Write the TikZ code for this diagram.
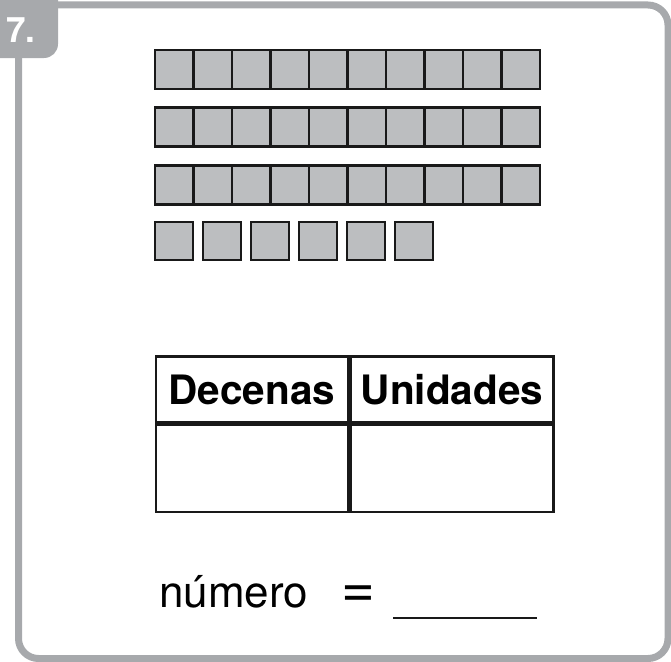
\documentclass[tikz,border=0pt]{standalone}
\usepackage{fontspec}
\setmainfont{TeX Gyre Heros}
\usepackage{xcolor}
\usepackage{tikz}
\usetikzlibrary{positioning}

\definecolor{framegray}{HTML}{A7A9AC}
\definecolor{blockgray}{HTML}{BCBEC0}

\begin{document}
\begin{tikzpicture}[
    x=1pt, y=-1pt,
    unitbox/.style={rectangle, draw=black!90, line width=2.6pt, fill=blockgray, minimum width=38.5pt, minimum height=39pt, inner sep=0pt},
    cell/.style={rectangle, draw=black!90, line width=2.4pt, minimum width=192pt, inner sep=0pt, font=\fontsize{40.5}{44}\selectfont\bfseries},
    tab/.style={fill=framegray, rounded corners=14pt}
]
    \useasboundingbox (0,0) rectangle (671,661);

    % Frame and tab
    \draw[framegray, line width=7pt, rounded corners=20pt] (18.5,5) rectangle (668,658.5);
    \fill[tab] (-20,-20) rectangle (58,58);
    \node[anchor=base west, text=white, font=\fontsize{35}{38}\selectfont\bfseries, inner sep=0pt] (num) at (6,43) {7.};

    % Rows of ten
    \foreach \r/\yy in {1/69.5, 2/127, 3/185} {
        \foreach \c in {1,...,10} {
            \node[unitbox] (r\r c\c) at ({155+38.5*(\c-0.5)},\yy) {};
        }
    }

    % Single units
    \foreach \c in {1,...,6} {
        \node[unitbox, minimum width=38pt, minimum height=38pt] (u\c) at ({174+48*(\c-1)},241) {};
    }

    % Table
    \node[cell, minimum height=66pt] (dec) at (252,389.5) {Decenas};
    \node[cell, minimum width=203pt, minimum height=66pt, right=0pt of dec] (uni) {Unidades};
    \node[cell, minimum height=87pt, below=0pt of dec] (decval) {};
    \node[cell, minimum width=203pt, minimum height=87pt, below=0pt of uni] (unival) {};

    % Answer line
    \node[anchor=base west, inner sep=0pt, font=\fontsize{44}{48}\selectfont] (numero) at (159,607) {número};
    \node[anchor=base, inner sep=0pt, font=\fontsize{58}{60}\selectfont] (eq) at (358,607) {=};
    \coordinate (blankL) at (393,618);
    \coordinate (blankR) at (537,618);
    \draw[black!90, line width=2pt] (blankL) -- (blankR);
\end{tikzpicture}
\end{document}
